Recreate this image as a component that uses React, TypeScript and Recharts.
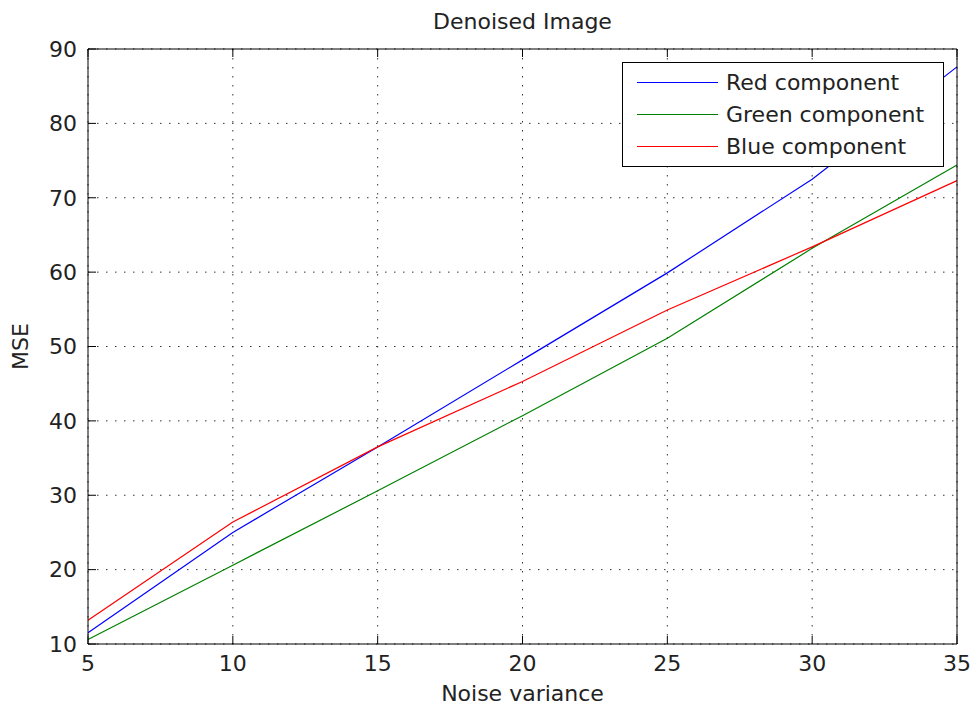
import * as React from 'react';
import {
  LineChart,
  Line,
  XAxis,
  YAxis,
  CartesianGrid,
} from 'recharts';

const noiseVariance = [5, 10, 15, 20, 25, 30, 35];
const redComponent = [11.5, 25.0, 36.5, 48.2, 59.9, 72.5, 87.6];
const greenComponent = [10.6, 20.6, 30.6, 40.7, 51.1, 63.2, 74.4];
const blueComponent = [13.2, 26.4, 36.5, 45.3, 54.9, 63.4, 72.3];
const xTicks = [5, 10, 15, 20, 25, 30, 35];
const yTicks = [10, 20, 30, 40, 50, 60, 70, 80, 90];

const SERIES = [
  { key: 'red', name: 'Red component', color: '#0000ff' },
  { key: 'green', name: 'Green component', color: '#008000' },
  { key: 'blue', name: 'Blue component', color: '#ff0000' },
];

const FONT = '"DejaVu Sans", Verdana, sans-serif';

const chartData = noiseVariance.map((x, i) => ({
  x,
  red: redComponent[i],
  green: greenComponent[i],
  blue: blueComponent[i],
}));

function LegendBox() {
  return (
    <div
      style={{
        position: 'absolute',
        left: 622,
        top: 62,
        width: 322,
        height: 105,
        border: '1px solid #000',
        background: '#fff',
        fontFamily: FONT,
        fontSize: 22,
        color: '#222',
        boxSizing: 'border-box',
        paddingTop: 3,
      }}
    >
      {SERIES.map((s) => (
        <div key={s.key} style={{ display: 'flex', alignItems: 'center', height: 32 }}>
          <span
            style={{
              display: 'inline-block',
              marginLeft: 14,
              width: 81,
              height: 0,
              borderTop: `1px solid ${s.color}`,
            }}
          />
          <span style={{ marginLeft: 8, whiteSpace: 'nowrap' }}>{s.name}</span>
        </div>
      ))}
    </div>
  );
}

const tickStyle = { fontSize: 22, fill: '#222', fontFamily: FONT };

export default function App() {
  return (
    <div style={{ position: 'absolute', left: 0, top: 0, width: 971, height: 705, background: '#fff' }}>
      <LineChart width={971} height={705} data={chartData} margin={{ top: 0, right: 0, bottom: 0, left: 0 }}>
        <CartesianGrid xAxisId="bottom" yAxisId="left" stroke="#333" strokeDasharray="1.5 7.5" />
        <XAxis
          xAxisId="bottom"
          dataKey="x"
          type="number"
          domain={[5, 35]}
          ticks={xTicks}
          height={61}
          tickSize={-8}
          tickMargin={19}
          stroke="#000"
          tick={tickStyle}
          label={{ value: 'Noise variance', position: 'insideBottom', offset: 4, style: tickStyle }}
        />
        <XAxis
          xAxisId="top"
          orientation="top"
          dataKey="x"
          type="number"
          domain={[5, 35]}
          ticks={xTicks}
          height={49}
          tickSize={-8}
          stroke="#000"
          tickFormatter={() => ''}
          label={{ value: 'Denoised Image', position: 'insideTop', offset: 13, style: tickStyle }}
        />
        <YAxis
          yAxisId="left"
          type="number"
          domain={[10, 90]}
          ticks={yTicks}
          width={88}
          tickSize={-8}
          tickMargin={19}
          stroke="#000"
          tick={tickStyle}
          label={{ value: 'MSE', angle: -90, position: 'insideLeft', offset: 20, style: { ...tickStyle, textAnchor: 'middle' } }}
        />
        <YAxis
          yAxisId="right"
          orientation="right"
          type="number"
          domain={[10, 90]}
          ticks={yTicks}
          width={14}
          tickSize={-8}
          stroke="#000"
          tickFormatter={() => ''}
        />
        {SERIES.map((s) => (
          <Line
            key={s.key}
            xAxisId="bottom"
            yAxisId="left"
            type="linear"
            dataKey={s.key}
            name={s.name}
            stroke={s.color}
            strokeWidth={1.2}
            dot={false}
            isAnimationActive={false}
          />
        ))}
      </LineChart>
      <LegendBox />
    </div>
  );
}
